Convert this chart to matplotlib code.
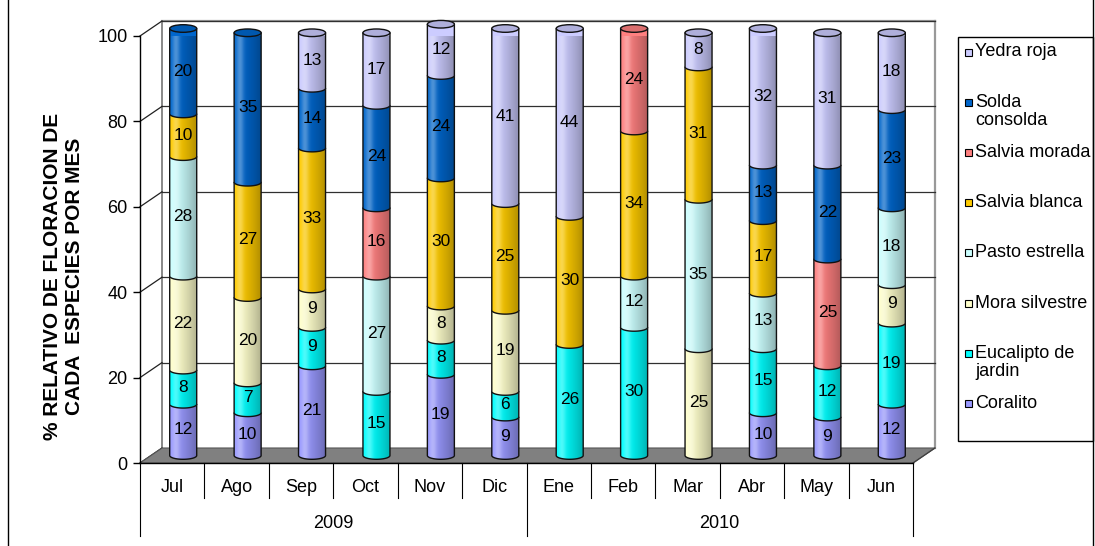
import numpy as np
import matplotlib
matplotlib.use("Agg")
import matplotlib.pyplot as plt
from matplotlib.patches import PathPatch, Ellipse, Polygon, Rectangle
from matplotlib.path import Path
from matplotlib.colors import to_rgb

plt.rcParams['font.family'] = ['Liberation Sans', 'DejaVu Sans']

# ---- data -----------------------------------------------------------------
months = ["Jul", "Ago", "Sep", "Oct", "Nov", "Dic",
          "Ene", "Feb", "Mar", "Abr", "May", "Jun"]
years = ["2009", "2010"]
series_names = ["Coralito", "Eucalipto de jardin", "Mora silvestre",
                "Pasto estrella", "Salvia blanca", "Salvia morada",
                "Solda consolda", "Yedra roja"]
legend_labels = ["Coralito", "Eucalipto de\njardin", "Mora silvestre",
                 "Pasto estrella", "Salvia blanca", "Salvia morada",
                 "Solda\nconsolda", "Yedra roja"]

coralito      = [12, 10, 21,  0, 19,  9,  0,  0,  0, 10,  9, 12]
eucalipto     = [ 8,  7,  9, 15,  8,  6, 26, 30,  0, 15, 12, 19]
mora          = [22, 20,  9,  0,  8, 19,  0,  0, 25,  0,  0,  9]
pasto         = [28,  0,  0, 27,  0,  0,  0, 12, 35, 13,  0, 18]
salvia_blanca = [10, 27, 33,  0, 30, 25, 30, 34, 31, 17,  0,  0]
salvia_morada = [ 0,  0,  0, 16,  0,  0,  0, 24,  0,  0, 25,  0]
solda         = [20, 35, 14, 24, 24,  0,  0,  0,  0, 13, 22, 23]
yedra         = [ 0,  0, 13, 17, 12, 41, 44,  0,  8, 32, 31, 18]

series = [coralito, eucalipto, mora, pasto, salvia_blanca,
          salvia_morada, solda, yedra]
colors = ["#9999FF", "#00FFFF", "#FFFFCC", "#CCFFFF", "#FFCC00",
          "#FF8080", "#0066CC", "#CCCCFF"]

# ---- figure / axes ----------------------------------------------------------
W, H = 1095, 546
fig = plt.figure(figsize=(W / 100, H / 100), dpi=100)
fig.patch.set_facecolor("white")

ax_l, ax_r, ax_top, ax_bot = 140, 913, 36, 463
ax = fig.add_axes([ax_l / W, (H - ax_bot) / H, (ax_r - ax_l) / W, (ax_bot - ax_top) / H])
ax.set_zorder(2)
ax.set_xlim(0, len(months))
ax.set_ylim(0, 100)
ax.patch.set_visible(False)

PX = (ax_r - ax_l) / len(months)      # pixels per category
PY = (ax_bot - ax_top) / 100.0        # pixels per percent
DX = 22 / PX                          # chart depth, in data units
DY = 15 / PY

for s in ("top", "right"):
    ax.spines[s].set_visible(False)
ax.spines["left"].set_linewidth(1.0)
ax.spines["bottom"].set_linewidth(1.0)
ax.spines["left"].set_zorder(5)
ax.spines["bottom"].set_zorder(5)
ax.set_yticks(range(0, 101, 20))
ax.tick_params(axis="y", direction="out", length=5, width=1, pad=4, labelsize=13)
ax.set_xticks([])

# back wall, side-wall grid and floor
ax.add_patch(Polygon([(0, 0), (len(months), 0), (len(months) + DX, DY), (DX, DY)],
                     closed=True, facecolor="#808080", edgecolor="#555555",
                     lw=0.8, zorder=1, clip_on=False))
for v in range(20, 101, 20):
    ax.plot([DX, len(months) + DX], [v + DY, v + DY], color="#303030", lw=0.9,
            zorder=0.5, clip_on=False)
for v in range(0, 101, 20):
    ax.plot([0, DX], [v, v + DY], color="#202020", lw=0.9, zorder=0.6, clip_on=False)
ax.plot([DX, DX], [DY, 100 + DY], color="#888888", lw=1.4, zorder=0.4, clip_on=False)
ax.plot([len(months) + DX] * 2, [DY, 100 + DY], color="#999999", lw=1.6,
        zorder=0.4, clip_on=False)
ax.plot([DX, len(months) + DX], [100 + DY, 100 + DY], color="#999999", lw=1.6,
        zorder=0.4, clip_on=False)
ax.plot([len(months), len(months) + DX], [0, DY], color="#404040", lw=0.9,
        zorder=1.1, clip_on=False)

# ---- cylinders --------------------------------------------------------------
HW = 13.5 / PX        # half width of a cylinder
EB = 3.8 / PY         # half height of the elliptical cross-section


def cylinder_shade(base, n=80):
    u = np.linspace(0, 1, n)
    light = 0.30 * np.exp(-((u - 0.22) / 0.14) ** 2)
    dark = 0.30 * u ** 1.5
    rgb = np.array(to_rgb(base))
    col = rgb[None, :] * (1 - dark[:, None])
    col = col + (1 - col) * light[:, None]
    return col[None, :, :]


def segment_path(cx, yb, yt):
    t = np.linspace(np.pi, 2 * np.pi, 40)
    verts = [(cx - HW, yt), (cx - HW, yb)]
    verts += list(zip(cx + HW * np.cos(t), yb + EB * np.sin(t)))
    verts += [(cx + HW, yt), (cx - HW, yt)]
    codes = [Path.MOVETO] + [Path.LINETO] * (len(verts) - 2) + [Path.CLOSEPOLY]
    return Path(verts, codes)


for j, m in enumerate(months):
    cx = j + 0.5 + DX / 2
    cum = 0.0
    z = 2.0
    top_color = None
    for k, vals in enumerate(series):
        v = vals[j]
        if v <= 0:
            continue
        yb = cum + DY / 2
        yt = cum + v + DY / 2
        path = segment_path(cx, yb, yt)
        body = PathPatch(path, facecolor=colors[k], edgecolor="none",
                         zorder=z, clip_on=False)
        ax.add_patch(body)
        img = ax.imshow(cylinder_shade(colors[k]), aspect="auto",
                        extent=[cx - HW, cx + HW, yb - EB, yt],
                        zorder=z + 0.001, interpolation="bilinear")
        img.set_clip_path(body)
        ax.add_patch(PathPatch(path, facecolor="none", edgecolor="#111111",
                               lw=1.0, zorder=z + 0.002, clip_on=False))
        ax.text(cx, cum + v / 2 + DY / 2, str(v), ha="center", va="center",
                fontsize=12.5, color="black", zorder=20)
        cum += v
        z += 0.01
        top_color = colors[k]
    cap = np.array(to_rgb(top_color)) * 0.86
    ax.add_patch(Ellipse((cx, cum + DY / 2), 2 * HW, 2 * EB, facecolor=cap,
                         edgecolor="#111111", lw=1.0, zorder=z + 0.005,
                         clip_on=False))
ax.set_xlim(0, len(months))
ax.set_ylim(0, 100)

# ---- two-level category axis -----------------------------------------------
month_y = -(487 - ax_bot) / PY
year_y = -(523 - ax_bot) / PY
tick_short = -(498 - ax_bot) / PY
tick_long = -(536 - ax_bot) / PY
for j, m in enumerate(months):
    ax.text(j + 0.5, month_y, m, ha="center", va="center", fontsize=13,
            clip_on=False)
for j in range(len(months) + 1):
    bottom = tick_long if j % 6 == 0 else tick_short
    ax.plot([j, j], [0, bottom], color="black", lw=0.8, clip_on=False, zorder=5)
for i, yr in enumerate(years):
    ax.text(i * 6 + 3, year_y, yr, ha="center", va="center", fontsize=13,
            clip_on=False)

# ---- page overlay: title, legend, frame ---------------------------------
ov = fig.add_axes([0, 0, 1, 1])
ov.set_zorder(1)
ov.set_xlim(0, W)
ov.set_ylim(H, 0)
ov.axis("off")

ov.plot([8, 8], [0, H], color="black", lw=1.0)
ov.plot([1093, 1093], [0, H], color="black", lw=1.0)

ov.text(64, 276, "% RELATIVO DE FLORACION DE\nCADA  ESPECIES POR MES",
        rotation=90, ha="center", va="center", multialignment="center",
        fontsize=15, fontweight="bold", linespacing=1.2)

ov.add_patch(Rectangle((958, 37), 1093 - 958, 441 - 37, facecolor="white",
                       edgecolor="black", lw=1.0))
slot0, step = 52, 50.2
for i, k in enumerate(range(len(series) - 1, -1, -1)):
    yc = slot0 + i * step
    ov.add_patch(Rectangle((965, yc - 3.5), 7, 7, facecolor=colors[k],
                           edgecolor="black", lw=0.8))
    for li, line in enumerate(legend_labels[k].split("\n")):
        ov.text(975, yc + li * 18.5, line, ha="left", va="center", fontsize=13)

fig.savefig("out.png", dpi=100)
